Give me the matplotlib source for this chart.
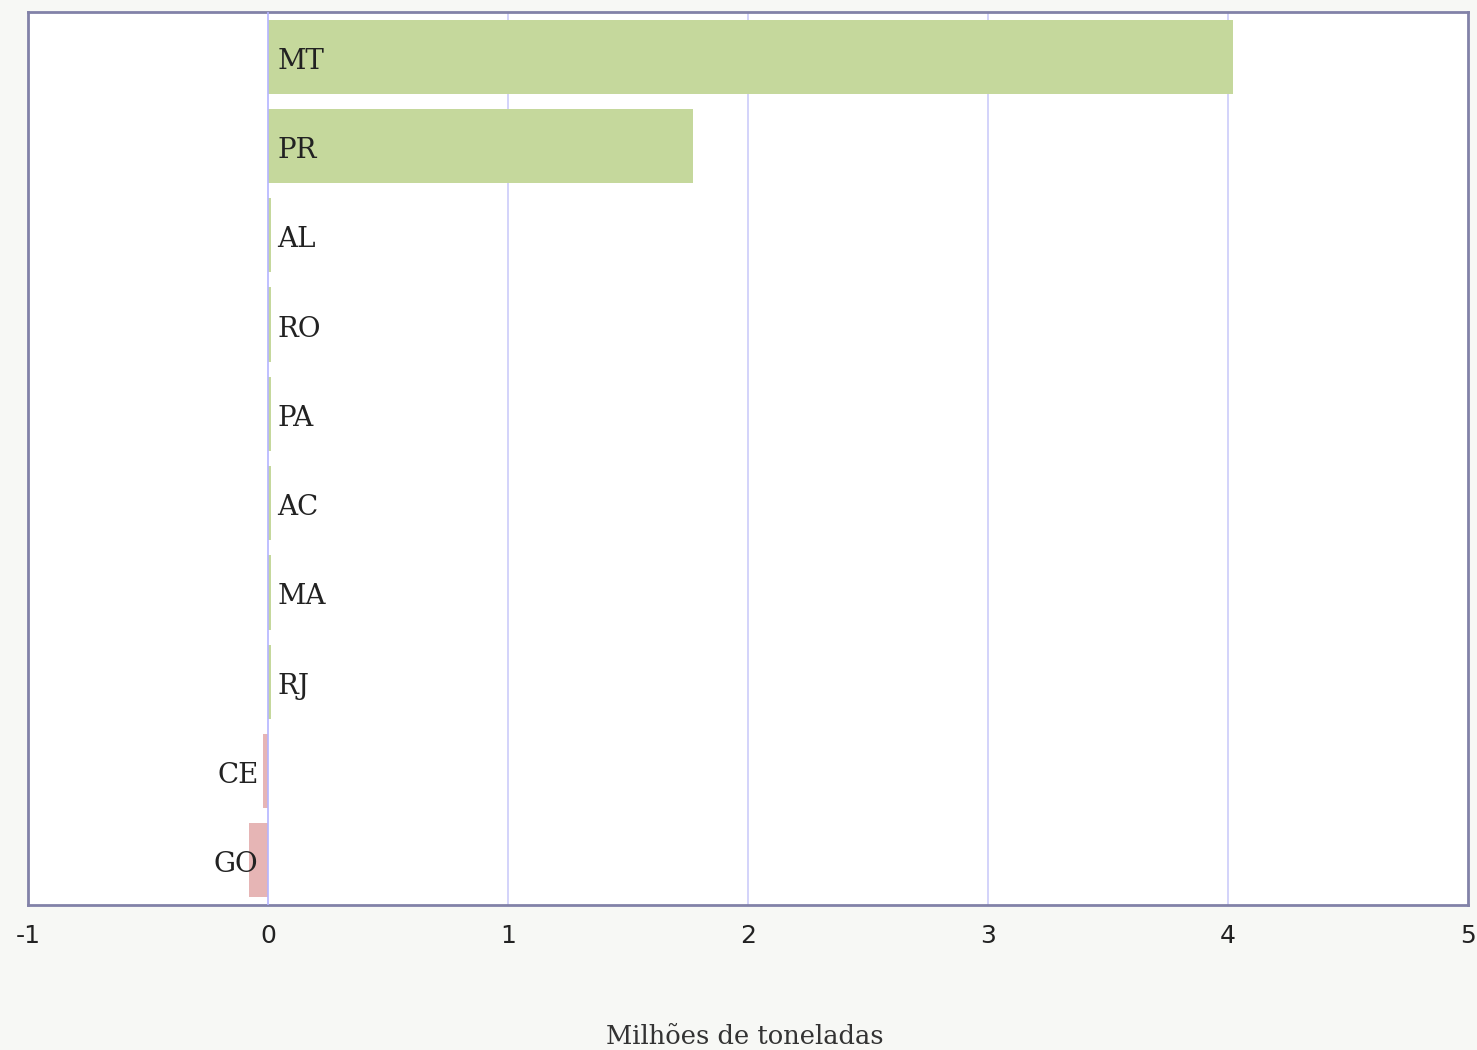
import matplotlib
matplotlib.use("Agg")
import matplotlib.pyplot as plt
import numpy as np

# states and net values (millions of tonnes)
states = ["MT", "PR", "AL", "RO", "PA", "AC", "MA", "RJ", "CE", "GO"]
values = [4.02, 1.77, 0.012, 0.012, 0.012, 0.012, 0.012, 0.012, -0.02, -0.08]
xticks = [-1, 0, 1, 2, 3, 4, 5]

bg = "#f7f8f5"
fig = plt.figure(figsize=(14.77, 10.5), dpi=100, facecolor=bg)
ax = fig.add_axes([28 / 1477, 1 - 905 / 1050, 1440 / 1477, 893 / 1050])
ax.set_facecolor("white")

ypos = np.arange(len(states))[::-1]
colors = ["#c5d89c" if v >= 0 else "#e6b5b5" for v in values]
ax.barh(ypos, values, height=0.83, color=colors, zorder=2)

# gridlines
for t in xticks[1:-1]:
    if t == 0:
        ax.axvline(t, color="#b4b4ff", lw=1.2, zorder=3)
    else:
        ax.axvline(t, color="#ccccfa", lw=1.2, zorder=1)

for y, v, s in zip(ypos, values, states):
    if v >= 0:
        ax.text(0.04, y - 0.05, s, ha="left", va="center", fontsize=20,
                family="DejaVu Serif", color="#222222", zorder=4)
    else:
        ax.text(-0.04, y - 0.05, s, ha="right", va="center", fontsize=20,
                family="DejaVu Serif", color="#222222", zorder=4)

ax.set_xlim(-1, 5)
ax.set_ylim(-0.5, 9.5)
ax.set_xticks(xticks)
ax.set_xticklabels([str(t) for t in xticks], fontsize=18, family="DejaVu Sans", color="#222222")
ax.set_yticks([])
ax.tick_params(axis="x", length=0, pad=14)
for sp in ax.spines.values():
    sp.set_color("#8282a8")
    sp.set_linewidth(2)

fig.text(745 / 1477, 1 - 1037 / 1050, "Milhões de toneladas", ha="center", va="center",
         fontsize=18.5, family="DejaVu Serif", color="#333333")

fig.savefig("out.png", dpi=100, facecolor=bg)
